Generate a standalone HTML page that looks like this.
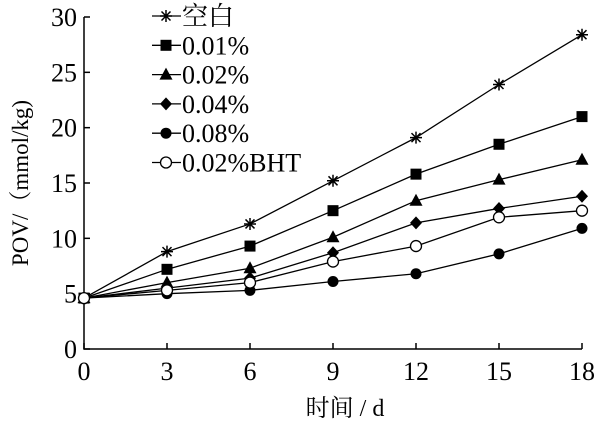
<!DOCTYPE html>
<html><head><meta charset="utf-8"><style>
html,body{margin:0;padding:0;background:#fff;}
svg text{font-family:"Liberation Serif","Noto Serif CJK SC",serif;fill:#000;}
</style></head><body>
<svg id="c" width="600" height="426" xmlns="http://www.w3.org/2000/svg"></svg>
<script>
const days=[0,3,6,9,12,15,18];
const xTicks=[0,3,6,9,12,15,18];
const yTicks=[0,5,10,15,20,25,30];
const seriesNames=["空白","0.01%","0.02%","0.04%","0.08%","0.02%BHT"];
const sBlank=[4.6,8.8,11.3,15.2,19.1,23.9,28.4];
const s001=[4.6,7.2,9.3,12.5,15.8,18.5,21.0];
const s002=[4.6,6.0,7.3,10.1,13.4,15.3,17.1];
const s004=[4.6,5.5,6.4,8.7,11.4,12.7,13.8];
const s008=[4.6,5.0,5.3,6.1,6.8,8.6,10.9];
const sBHT=[4.6,5.3,6.0,7.9,9.3,11.9,12.5];
const markers=["star","square","triangle","diamond","circle","open"];
const NS="http://www.w3.org/2000/svg";
const svg=document.getElementById('c');
const X=v=>84+v*(582-84)/18;
const Y=v=>349-v*(349-17)/30;
function mk(t,a,p){const e=document.createElementNS(NS,t);for(const k in a)e.setAttribute(k,a[k]);(p||svg).appendChild(e);return e;}
let ax=mk('path',{d:`M${X(0)},${Y(30)} L${X(0)},${Y(0)} L${X(18)},${Y(0)}`,fill:'none',stroke:'#000','stroke-width':1.5});


xTicks.forEach(t=>{
 let l=mk('line',{x1:X(t),x2:X(t),y1:Y(0),y2:Y(0)-6,stroke:'#000','stroke-width':1.5});
 
 
 let tx=mk('text',{x:X(t),y:380,'text-anchor':'middle','font-size':26});tx.textContent=t;
 
 
});
yTicks.forEach(t=>{
 let l=mk('line',{x1:X(0),x2:X(0)+6,y1:Y(t),y2:Y(t),stroke:'#000','stroke-width':1.5});
 
 
 let tx=mk('text',{x:77,y:Y(t)+9,'text-anchor':'end','font-size':26});tx.textContent=t;
 
 
});
let xt=mk('text',{x:345,y:416,'text-anchor':'middle','font-size':24});xt.textContent='时间 / d';


let yt=mk('text',{x:0,y:0,'text-anchor':'middle','font-size':23,transform:'translate(28,183) rotate(-90)'});yt.textContent='POV/（mmol/kg)';


function marker(type,x,y,g){
 const r=5;
 if(type==='star'){
  mk('path',{d:`M${x-6},${y} L${x+6},${y} M${x},${y-6} L${x},${y+6} M${x-4.5},${y-4.5} L${x+4.5},${y+4.5} M${x-4.5},${y+4.5} L${x+4.5},${y-4.5}`,stroke:'#000','stroke-width':1.5,fill:'none'},g);
 }else if(type==='square'){mk('rect',{x:x-5.5,y:y-5.5,width:11,height:11,fill:'#000'},g);}
 else if(type==='triangle'){mk('path',{d:`M${x},${y-7} L${x+6.5},${y+5} L${x-6.5},${y+5}Z`,fill:'#000'},g);}
 else if(type==='diamond'){mk('path',{d:`M${x},${y-6.5} L${x+6},${y} L${x},${y+6.5} L${x-6},${y}Z`,fill:'#000'},g);}
 else if(type==='circle'){mk('circle',{cx:x,cy:y,r:r+0.5,fill:'#000'},g);}
 else {mk('circle',{cx:x,cy:y,r:r+0.5,fill:'#fff',stroke:'#000','stroke-width':1.3},g);}
}
const all=[sBlank,s001,s002,s004,s008,sBHT];
const names=['series-blank','series-0-01','series-0-02','series-0-04','series-0-08','series-bht'];
all.forEach((s,i)=>{
 const g=mk('g',{});
 
 
 mk('polyline',{points:s.map((v,j)=>X(days[j])+','+Y(v)).join(' '),fill:'none',stroke:'#000','stroke-width':1.3},g);
 s.forEach((v,j)=>marker(markers[i],X(days[j]),Y(v),g));
});
const lg=mk('g',{});


seriesNames.forEach((n,i)=>{
 const y=16+i*29.3;
 const e=mk('g',{},lg);
 
 
 mk('line',{x1:152,x2:181,y1:y,y2:y,stroke:'#000','stroke-width':1.3},e);
 marker(markers[i],166,y,e);
 const t=mk('text',{x:182,y:y+9,'font-size':26},e);t.textContent=n;
});
</script>
</body></html>
